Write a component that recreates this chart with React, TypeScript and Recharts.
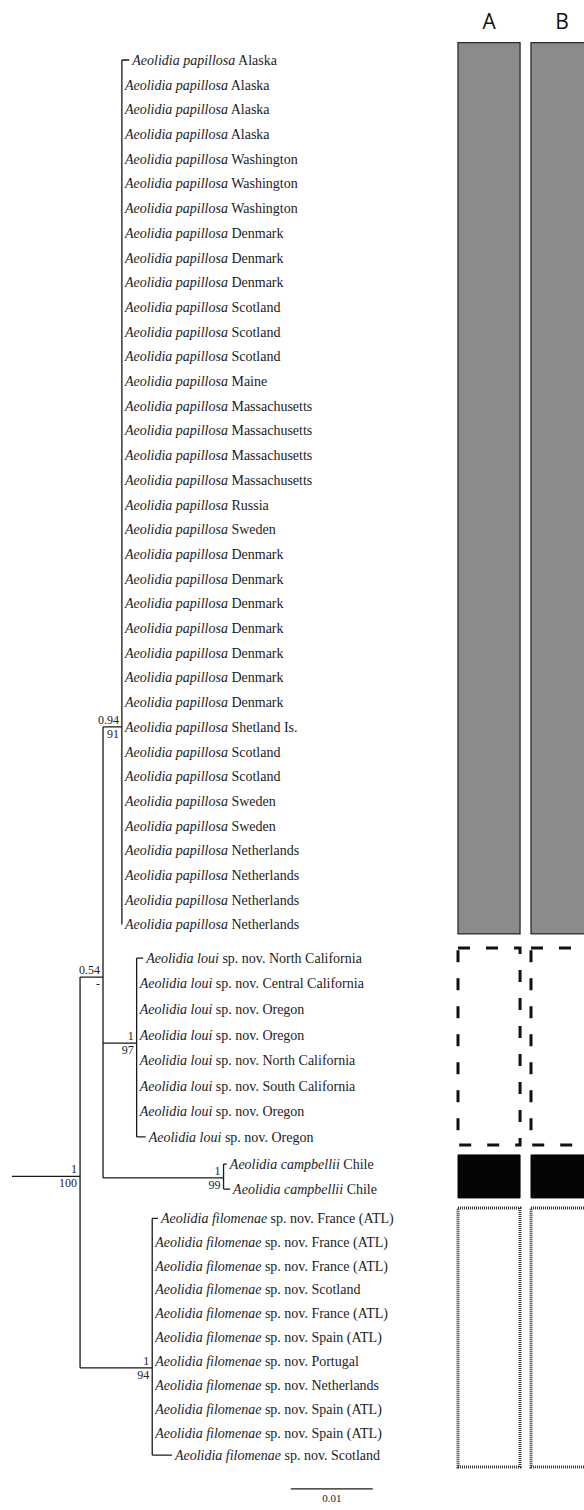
import React from "react";
import { ComposedChart, XAxis, YAxis, Line, Scatter, ReferenceArea } from "recharts";

// tips per clade: locality, row (tip order), tip branch length (subst./site)
const PAPILLOSA_PLACES = [
  "Alaska", "Alaska", "Alaska", "Alaska", "Washington", "Washington", "Washington",
  "Denmark", "Denmark", "Denmark", "Scotland", "Scotland", "Scotland", "Maine",
  "Massachusetts", "Massachusetts", "Massachusetts", "Massachusetts", "Russia", "Sweden",
  "Denmark", "Denmark", "Denmark", "Denmark", "Denmark", "Denmark", "Denmark",
  "Shetland Is.", "Scotland", "Scotland", "Sweden", "Sweden",
  "Netherlands", "Netherlands", "Netherlands", "Netherlands",
];
const PAPILLOSA_ROWS = [
  0, 1, 2, 3, 4, 5, 6, 7, 8, 9, 10, 11, 12, 13, 14, 15, 16, 17, 18, 19,
  20, 21, 22, 23, 24, 25, 26, 27, 28, 29, 30, 31, 32, 33, 34, 35,
];
const PAPILLOSA_LEN = [
  0.0009, 0, 0, 0, 0, 0, 0, 0, 0, 0, 0, 0, 0, 0, 0, 0, 0, 0, 0, 0,
  0, 0, 0, 0, 0, 0, 0, 0, 0, 0, 0, 0, 0, 0, 0, 0,
];

const LOUI_PLACES = [
  "North California", "Central California", "Oregon", "Oregon",
  "North California", "South California", "Oregon", "Oregon",
];
const LOUI_ROWS = [36.36, 37.39, 38.43, 39.46, 40.5, 41.53, 42.57, 43.6];
const LOUI_LEN = [0.0008, 0, 0, 0, 0, 0, 0, 0.0011];

const CAMPBELLII_PLACES = ["Chile", "Chile"];
const CAMPBELLII_ROWS = [44.7, 45.71];
const CAMPBELLII_LEN = [0.0004, 0.0008];

const FILOMENAE_PLACES = [
  "France (ATL)", "France (ATL)", "France (ATL)", "Scotland", "France (ATL)",
  "Spain (ATL)", "Portugal", "Netherlands", "Spain (ATL)", "Spain (ATL)", "Scotland",
];
const FILOMENAE_ROWS = [46.9, 47.85, 48.81, 49.77, 50.73, 51.7, 52.67, 53.64, 54.62, 55.59, 56.48];
const FILOMENAE_LEN = [0.0007, 0, 0, 0, 0, 0, 0, 0, 0, 0, 0.0024];

// internal nodes
const NODE_IDS = ["root", "ingroup", "papillosa", "loui", "campbellii", "filomenae"];
const NODE_PARENT = [null, "root", "ingroup", "ingroup", "ingroup", "root"];
const NODE_BRANCH = [0.0083, 0.0028, 0.0023, 0.0041, 0.0147, 0.0088];
const NODE_ROWS = [45.2, 37.13, 27, 39.8, 45.26, 52.95];
const NODE_PP = ["1", "0.54", "0.94", "1", "1", "1"];
const NODE_BS = ["100", "-", "91", "97", "99", "94"];

// character columns A / B and the clade boxes drawn in them
const COLUMNS = ["A", "B"];
const BOX_TOP = [-0.7, 35.95, 44.33, 46.48];
const BOX_BOTTOM = [35.38, 43.93, 46.07, 56.96];
const SCALE_BAR = 0.01;

const CLADES = [
  { node: "papillosa", species: "Aeolidia papillosa", note: "", places: PAPILLOSA_PLACES, rows: PAPILLOSA_ROWS, lens: PAPILLOSA_LEN },
  { node: "loui", species: "Aeolidia loui", note: "sp. nov. ", places: LOUI_PLACES, rows: LOUI_ROWS, lens: LOUI_LEN },
  { node: "campbellii", species: "Aeolidia campbellii", note: "", places: CAMPBELLII_PLACES, rows: CAMPBELLII_ROWS, lens: CAMPBELLII_LEN },
  { node: "filomenae", species: "Aeolidia filomenae", note: "sp. nov. ", places: FILOMENAE_PLACES, rows: FILOMENAE_ROWS, lens: FILOMENAE_LEN },
];

const BOX_STYLES = [
  { fill: "#8b8b8b", fillOpacity: 1, stroke: "#2b2b2b", strokeWidth: 1.3 },
  { fill: "none", fillOpacity: 0, stroke: "#111", strokeWidth: 3, strokeDasharray: "12 16" },
  { fill: "#050505", fillOpacity: 1, stroke: "#050505", strokeWidth: 1 },
  { fill: "none", fillOpacity: 0, stroke: "#333", strokeWidth: 3, strokeDasharray: "1 1" },
];

const W = 584;
const H = 1510;
const PX_PER_UNIT = 8200;
const X_ORIGIN = 12;
const ROW_PX = 24.7;
const ROW_ORIGIN = 60;
const COL_LEFT = 458;
const COL_PITCH = 73;
const COL_WIDTH = 0.85;
const SERIF = "'Liberation Serif', 'Times New Roman', serif";

// ---- build tree geometry from the data ----
const depth: Record<string, number> = {};
NODE_IDS.forEach((id, i) => {
  const p = NODE_PARENT[i];
  depth[id] = (p ? depth[p] : 0) + NODE_BRANCH[i];
});
const nodeRow: Record<string, number> = {};
NODE_IDS.forEach((id, i) => (nodeRow[id] = NODE_ROWS[i]));

const childRows: Record<string, number[]> = {};
NODE_IDS.forEach((id) => (childRows[id] = []));
NODE_IDS.forEach((id, i) => {
  const p = NODE_PARENT[i];
  if (p) childRows[p].push(NODE_ROWS[i]);
});

const segments: { x: number | null; y: number | null }[] = [];
const addSeg = (x1: number, y1: number, x2: number, y2: number) => {
  segments.push({ x: x1, y: y1 }, { x: x2, y: y2 }, { x: null, y: null });
};

const tips: any[] = [];
CLADES.forEach((c) => {
  const px = depth[c.node];
  c.places.forEach((place, i) => {
    const row = c.rows[i];
    const len = c.lens[i];
    childRows[c.node].push(row);
    if (len > 0) addSeg(px, row, px + len, row);
    tips.push({ x: px + len, y: row, species: c.species, note: c.note, place });
  });
});

NODE_IDS.forEach((id, i) => {
  const p = NODE_PARENT[i];
  addSeg(p ? depth[p] : 0, nodeRow[id], depth[id], nodeRow[id]);
  const rows = childRows[id];
  addSeg(depth[id], Math.min(...rows), depth[id], Math.max(...rows));
});

const supports = NODE_IDS.map((id, i) => ({ x: depth[id], y: nodeRow[id], pp: NODE_PP[i], bs: NODE_BS[i] }));

const scaleX0 = 0.034;
const scaleRow = 57.85;
const scaleBar = [
  { x: scaleX0, y: scaleRow },
  { x: scaleX0 + SCALE_BAR, y: scaleRow },
];
const scaleLabel = [{ x: scaleX0 + SCALE_BAR / 2, y: scaleRow, text: SCALE_BAR.toFixed(2) }];

const headers = COLUMNS.map((label, i) => ({ x: i + COL_WIDTH / 2, y: -1.55, label }));

const TipLabel = (props: any) => {
  const { cx, cy, payload } = props;
  return (
    <text x={cx + 3} y={cy} dy="0.35em" fontFamily={SERIF} fontSize={14} fill="#1c1c1c">
      <tspan fontStyle="italic">{payload.species}</tspan>
      <tspan>{` ${payload.note}${payload.place}`}</tspan>
    </text>
  );
};

const SupportLabel = (props: any) => {
  const { cx, cy, payload } = props;
  return (
    <g>
      <text x={cx - 3} y={cy - 3} textAnchor="end" fontFamily={SERIF} fontSize={12} fill="#222">
        {payload.pp}
      </text>
      <text x={cx - 3} y={cy + 11} textAnchor="end" fontFamily={SERIF} fontSize={12} fill="#222">
        {payload.bs}
      </text>
    </g>
  );
};

const ScaleText = (props: any) => (
  <text x={props.cx} y={props.cy + 13} textAnchor="middle" fontFamily={SERIF} fontSize={11} fill="#222">
    {props.payload.text}
  </text>
);

const HeaderText = (props: any) => (
  <text x={props.cx} y={props.cy} dy="0.36em" textAnchor="middle" fontFamily="'Open Sans', 'DejaVu Sans', sans-serif" fontSize={21} fill="#111">
    {props.payload.label}
  </text>
);

const App = () => {
  return (
    <div style={{ position: "absolute", left: 0, top: 0, width: W, height: H, background: "#fff" }}>
      <ComposedChart width={W} height={H} margin={{ top: 0, right: 0, bottom: 0, left: 0 }}>
        <XAxis
          xAxisId="tree"
          type="number"
          dataKey="x"
          domain={[-X_ORIGIN / PX_PER_UNIT, (W - X_ORIGIN) / PX_PER_UNIT]}
          allowDataOverflow
          hide
        />
        <XAxis
          xAxisId="col"
          type="number"
          dataKey="x"
          domain={[-COL_LEFT / COL_PITCH, (W - COL_LEFT) / COL_PITCH]}
          allowDataOverflow
          hide
        />
        <YAxis
          yAxisId="row"
          type="number"
          dataKey="y"
          domain={[-ROW_ORIGIN / ROW_PX, (H - ROW_ORIGIN) / ROW_PX]}
          reversed
          allowDataOverflow
          hide
        />
        {COLUMNS.map((col, ci) =>
          BOX_TOP.map((top, bi) => (
            <ReferenceArea
              key={`${col}-${bi}`}
              xAxisId="col"
              yAxisId="row"
              x1={ci}
              x2={ci + COL_WIDTH}
              y1={top}
              y2={BOX_BOTTOM[bi]}
              ifOverflow="visible"
              {...BOX_STYLES[bi]}
            />
          ))
        )}
        <Line
          xAxisId="tree"
          yAxisId="row"
          data={segments}
          dataKey="y"
          stroke="#1a1a1a"
          strokeWidth={1.3}
          dot={false}
          activeDot={false}
          connectNulls={false}
          isAnimationActive={false}
          type="linear"
        />
        <Line
          xAxisId="tree"
          yAxisId="row"
          data={scaleBar}
          dataKey="y"
          stroke="#1a1a1a"
          strokeWidth={1.3}
          dot={false}
          activeDot={false}
          isAnimationActive={false}
          type="linear"
        />
        <Scatter xAxisId="tree" yAxisId="row" data={tips} shape={TipLabel} isAnimationActive={false} />
        <Scatter xAxisId="tree" yAxisId="row" data={supports} shape={SupportLabel} isAnimationActive={false} />
        <Scatter xAxisId="tree" yAxisId="row" data={scaleLabel} shape={ScaleText} isAnimationActive={false} />
        <Scatter xAxisId="col" yAxisId="row" data={headers} shape={HeaderText} isAnimationActive={false} />
      </ComposedChart>
    </div>
  );
};

export default App;
